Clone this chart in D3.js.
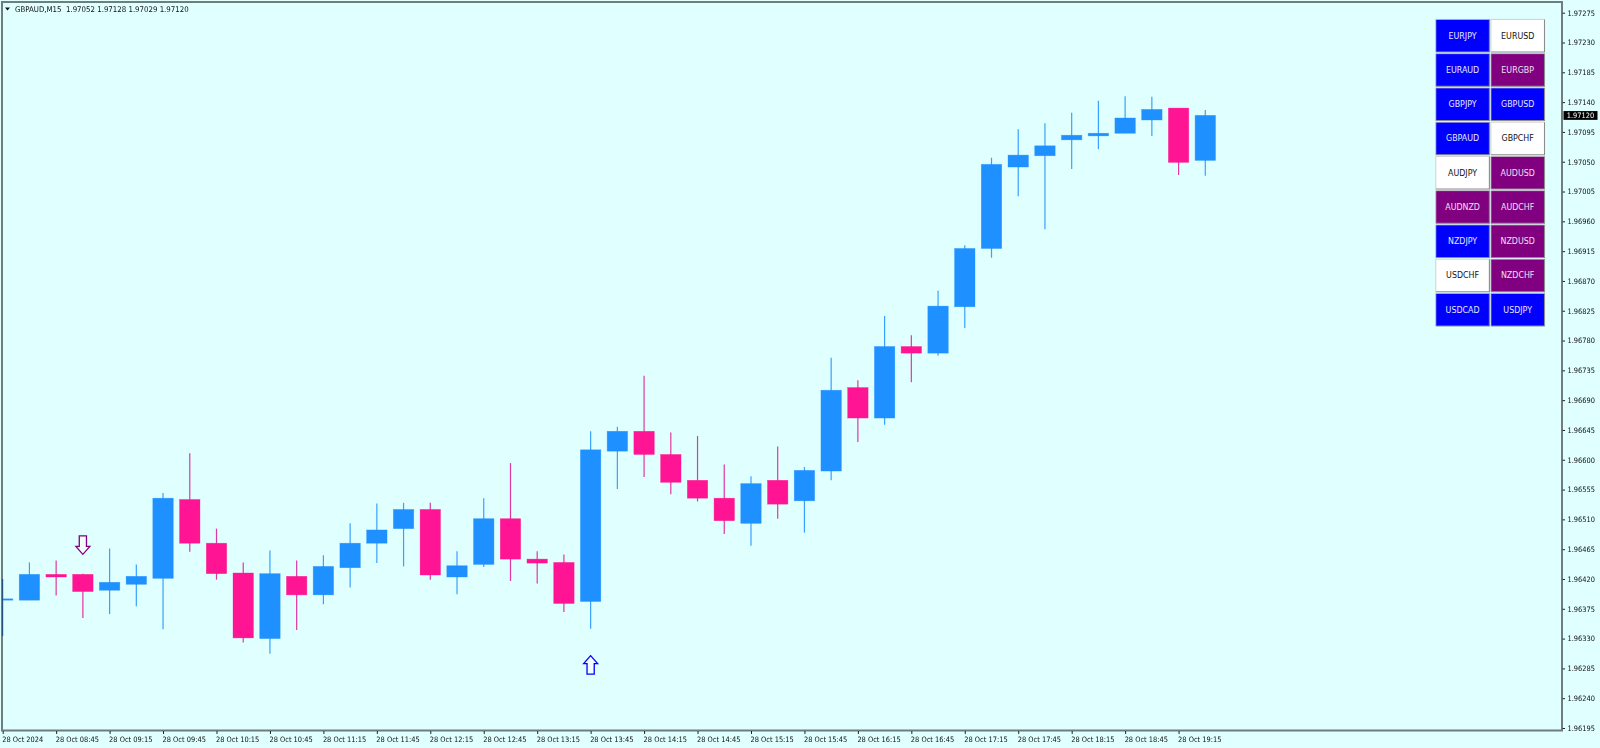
<!DOCTYPE html>
<html>
<head>
<meta charset="utf-8">
<script src="https://cdn.jsdelivr.net/npm/d3@7"></script>
<style>
    html, body { margin: 0; padding: 0; background: #e0ffff; overflow: hidden; }
    svg { display: block; }
    text { font-family: "DejaVu Sans Condensed", "DejaVu Sans", sans-serif; font-stretch: condensed; }
    .axis text { font-size: 7.4px; fill: #111; }
    .axis line { stroke: #222; }
</style>
</head>
<body>
<div id="chart"></div>
<script>
// 15 minute candles, GBPAUD, starting 28 Oct 08:15
const opens = [1.96388, 1.96388, 1.96427, 1.96427, 1.96403, 1.96412, 1.96421, 1.96540, 1.96474, 1.96429,
    1.96330, 1.96424, 1.96396, 1.96437, 1.96474, 1.96496, 1.96525, 1.96423, 1.96442, 1.96511,
    1.96450, 1.96445, 1.96386, 1.96613, 1.96643, 1.96608, 1.96569, 1.96542, 1.96504, 1.96569,
    1.96538, 1.96583, 1.96709, 1.96663, 1.96771, 1.96761, 1.96831, 1.96919, 1.97042, 1.97059,
    1.97083, 1.97089, 1.97093, 1.97113, 1.97131, 1.97052];
const highs = [1.96420, 1.96445, 1.96448, 1.96428, 1.96466, 1.96442, 1.96550, 1.96610, 1.96496, 1.96445,
    1.96463, 1.96448, 1.96456, 1.96504, 1.96534, 1.96535, 1.96535, 1.96462, 1.96542, 1.96595,
    1.96462, 1.96457, 1.96643, 1.96650, 1.96727, 1.96641, 1.96636, 1.96593, 1.96575, 1.96620,
    1.96589, 1.96754, 1.96720, 1.96817, 1.96788, 1.96855, 1.96924, 1.97056, 1.97099, 1.97108,
    1.97124, 1.97142, 1.97149, 1.97148, 1.97131, 1.97128];
const lows = [1.96334, 1.96388, 1.96395, 1.96361, 1.96367, 1.96379, 1.96344, 1.96461, 1.96419, 1.96324,
    1.96307, 1.96343, 1.96382, 1.96407, 1.96444, 1.96439, 1.96419, 1.96397, 1.96438, 1.96417,
    1.96413, 1.96370, 1.96345, 1.96556, 1.96574, 1.96548, 1.96537, 1.96488, 1.96470, 1.96511,
    1.96490, 1.96569, 1.96627, 1.96653, 1.96717, 1.96757, 1.96799, 1.96905, 1.96998, 1.96948,
    1.97039, 1.97069, 1.97093, 1.97089, 1.97030, 1.97029];
const closes = [1.96390, 1.96427, 1.96423, 1.96401, 1.96415, 1.96424, 1.96542, 1.96474, 1.96428, 1.96331,
    1.96428, 1.96396, 1.96439, 1.96474, 1.96494, 1.96525, 1.96426, 1.96440, 1.96511, 1.96450,
    1.96444, 1.96383, 1.96615, 1.96643, 1.96608, 1.96566, 1.96542, 1.96508, 1.96564, 1.96533,
    1.96584, 1.96705, 1.96663, 1.96771, 1.96761, 1.96832, 1.96919, 1.97046, 1.97060, 1.97074,
    1.97090, 1.97093, 1.97116, 1.97129, 1.97049, 1.97120];

const priceTicks = [1.97275, 1.97230, 1.97185, 1.97140, 1.97095, 1.97050, 1.97005, 1.96960, 1.96915,
    1.96870, 1.96825, 1.96780, 1.96735, 1.96690, 1.96645, 1.96600, 1.96555, 1.96510, 1.96465,
    1.96420, 1.96375, 1.96330, 1.96285, 1.96240, 1.96195];
const timeLabels = ["28 Oct 2024", "28 Oct 08:45", "28 Oct 09:15", "28 Oct 09:45", "28 Oct 10:15", "28 Oct 10:45",
    "28 Oct 11:15", "28 Oct 11:45", "28 Oct 12:15", "28 Oct 12:45", "28 Oct 13:15", "28 Oct 13:45",
    "28 Oct 14:15", "28 Oct 14:45", "28 Oct 15:15", "28 Oct 15:45", "28 Oct 16:15", "28 Oct 16:45",
    "28 Oct 17:15", "28 Oct 17:45", "28 Oct 18:15", "28 Oct 18:45", "28 Oct 19:15"];
const timeTickIndex = d3.range(0, 46, 2);

const pairNames = ["EURJPY", "EURUSD", "EURAUD", "EURGBP", "GBPJPY", "GBPUSD", "GBPAUD", "GBPCHF", "AUDJPY",
    "AUDUSD", "AUDNZD", "AUDCHF", "NZDJPY", "NZDUSD", "USDCHF", "NZDCHF", "USDCAD", "USDJPY"];
const pairStates = ["buy", "flat", "buy", "sell", "buy", "buy", "buy", "flat", "flat",
    "sell", "sell", "sell", "buy", "sell", "flat", "sell", "buy", "buy"];

const downSignalIndex = [3];
const downSignalPrice = [1.96427];
const upSignalIndex = [22];
const upSignalPrice = [1.96345];

const chartTitle = "GBPAUD,M15  1.97052 1.97128 1.97029 1.97120";
const lastPrice = closes[closes.length - 1];

const width = 1600, height = 748;
const plot = { left: 2, top: 2, right: 1562, bottom: 730.5 };
const frameColor = "#6f7d7d";
const upColor = "#1e90ff", downColor = "#ff1493";
const stateFill = { buy: "#0000ff", sell: "#800080", flat: "#ffffff" };
const stateText = { buy: "#e8e8ff", sell: "#f0e0f0", flat: "#111111" };

const x = d3.scaleLinear().domain([0, 45]).range([2.7, 1205.3]);
const y = d3.scaleLinear().domain([1.97275, 1.96195]).range([12.7, 728]);

const svg = d3.select("#chart").append("svg").attr("width", width).attr("height", height);
svg.append("rect").attr("width", width).attr("height", height).attr("fill", "#e0ffff");

svg.append("clipPath").attr("id", "plot-clip")
    .append("rect")
    .attr("x", plot.left + 1)
    .attr("y", plot.top)
    .attr("width", plot.right - plot.left)
    .attr("height", plot.bottom - plot.top);

// frame
svg.append("rect")
    .attr("x", plot.left)
    .attr("y", plot.top)
    .attr("width", plot.right - plot.left)
    .attr("height", plot.bottom - plot.top)
    .attr("fill", "none")
    .attr("stroke", frameColor)
    .attr("stroke-width", 2);

// candles
const candles = svg.append("g").selectAll("g")
    .data(d3.range(opens.length))
    .enter()
    .append("g")
    .attr("fill", i => closes[i] >= opens[i] ? upColor : downColor)
    .attr("stroke", i => closes[i] >= opens[i] ? upColor : downColor);

candles.append("line")
    .attr("x1", i => x(i))
    .attr("x2", i => x(i))
    .attr("y1", i => y(highs[i]))
    .attr("y2", i => y(lows[i]))
    .attr("stroke-width", 1.2)
    .attr("stroke-opacity", 0.85)
    .style("mix-blend-mode", "multiply");

candles.append("rect")
    .attr("clip-path", "url(#plot-clip)")
    .attr("x", i => x(i) - 10.2)
    .attr("width", 20.4)
    .attr("y", i => y(Math.max(opens[i], closes[i])))
    .attr("height", i => Math.max(0.8, Math.abs(y(opens[i]) - y(closes[i]))))
    .attr("stroke-width", 0.6)
    .attr("stroke-opacity", 0.6);

// signal arrows
function arrowPath(cx, tip, dir) {
    // dir = 1 points down, dir = -1 points up
    const p = d3.path();
    p.moveTo(cx, tip);
    p.lineTo(cx - 7, tip - dir * 8);
    p.lineTo(cx - 3.6, tip - dir * 8);
    p.lineTo(cx - 3.6, tip - dir * 18.5);
    p.lineTo(cx + 3.6, tip - dir * 18.5);
    p.lineTo(cx + 3.6, tip - dir * 8);
    p.lineTo(cx + 7, tip - dir * 8);
    p.closePath();
    return p.toString();
}

svg.append("g").selectAll("path")
    .data(downSignalIndex)
    .enter()
    .append("path")
    .attr("d", (d, i) => arrowPath(x(d), y(downSignalPrice[i]) - 20, 1))
    .attr("fill", "#f4fdfd")
    .attr("stroke", "#800080")
    .attr("stroke-width", 1.3);

svg.append("g").selectAll("path")
    .data(upSignalIndex)
    .enter()
    .append("path")
    .attr("d", (d, i) => arrowPath(x(d), y(upSignalPrice[i]) + 27, -1))
    .attr("fill", "#f4fdfd")
    .attr("stroke", "#0000ff")
    .attr("stroke-width", 1.3);

// axes
const yAxis = d3.axisRight(y)
    .tickValues(priceTicks)
    .tickFormat(d3.format(".5f"))
    .tickSize(2.5)
    .tickPadding(2.5);
svg.append("g")
    .attr("class", "axis")
    .attr("transform", `translate(${plot.right + 0.5},0)`)
    .call(yAxis)
    .call(g => g.select(".domain").remove());

const xAxis = d3.axisBottom(x)
    .tickValues(timeTickIndex)
    .tickFormat((d, i) => timeLabels[i])
    .tickSize(3)
    .tickPadding(2.5);
svg.append("g")
    .attr("class", "axis")
    .attr("transform", `translate(0,${plot.bottom + 0.5})`)
    .call(xAxis)
    .call(g => g.select(".domain").remove())
    .selectAll("text")
    .attr("text-anchor", "start")
    .attr("dx", -1);

// current price tag
svg.append("rect")
    .attr("x", 1563.5)
    .attr("y", y(lastPrice) - 4.3)
    .attr("width", 34)
    .attr("height", 8.8)
    .attr("fill", "#000");
svg.append("text")
    .attr("x", 1566.7)
    .attr("y", y(lastPrice) + 2.8)
    .attr("font-size", 7.4)
    .attr("fill", "#fff")
    .text(d3.format(".5f")(lastPrice));

// header
svg.append("path")
    .attr("d", "M5,7.5 L10,7.5 L7.5,10.5 Z")
    .attr("fill", "#111");
svg.append("text")
    .attr("x", 15)
    .attr("y", 11.5)
    .attr("font-size", 7.8)
    .attr("xml:space", "preserve")
    .attr("fill", "#111")
    .text(chartTitle);

// symbol buttons
const buttonW = 53.6, buttonH = 32.6, pitchX = 55.1, pitchY = 34.25;
const buttons = svg.append("g")
    .attr("transform", "translate(1435.8,19.4)")
    .selectAll("g")
    .data(pairNames)
    .enter()
    .append("g")
    .attr("transform", (d, i) => `translate(${(i % 2) * pitchX},${Math.floor(i / 2) * pitchY})`);

buttons.append("rect")
    .attr("width", buttonW)
    .attr("height", buttonH)
    .attr("fill", (d, i) => stateFill[pairStates[i]]);
buttons.append("path")
    .attr("d", `M0,${buttonH} V0 H${buttonW}`)
    .attr("fill", "none")
    .attr("stroke", "#c4c4c4")
    .attr("stroke-width", 0.8);
buttons.append("path")
    .attr("d", `M0,${buttonH} H${buttonW} V0`)
    .attr("fill", "none")
    .attr("stroke", "#8c8c8c")
    .attr("stroke-width", 1.1);
buttons.append("text")
    .attr("x", buttonW / 2)
    .attr("y", buttonH / 2 + 2.9)
    .attr("text-anchor", "middle")
    .attr("font-size", 8.8)
    .attr("fill", (d, i) => stateText[pairStates[i]])
    .text(d => d);
</script>
</body>
</html>
